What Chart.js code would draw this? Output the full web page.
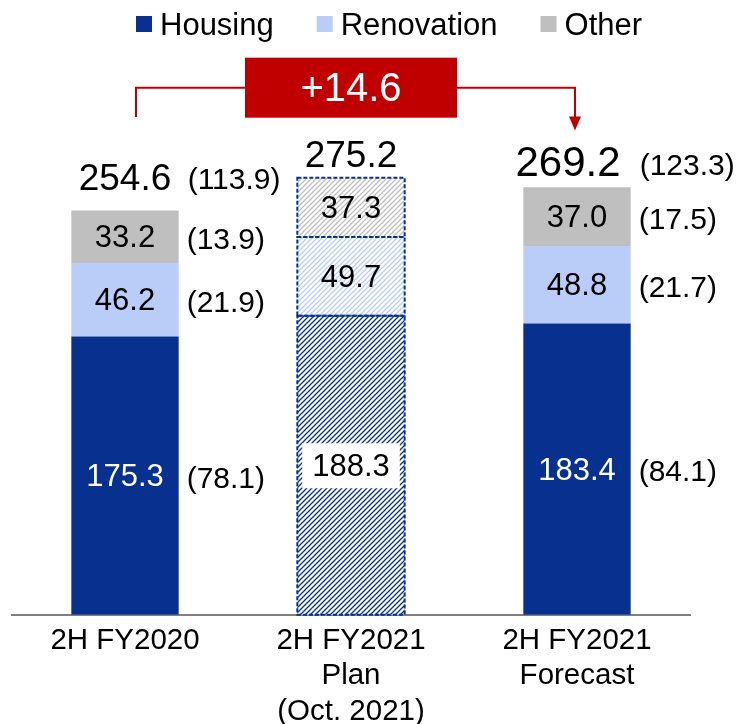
<!DOCTYPE html>
<html lang="en">
<head>
<meta charset="UTF-8">
<script src="https://cdn.jsdelivr.net/npm/chart.js"></script>
<title>Sales 2H FY2021</title>
<style>
  body { margin: 0; background: #fff; }
  #chart { display: block; }
</style>
</head>
<body>
<canvas id="chart" width="738" height="724"></canvas>
<script>
// x axis categories (multi line)
const categories = [['2H FY2020'], ['2H FY2021', 'Plan', '(Oct. 2021)'], ['2H FY2021', 'Forecast']];
// stacked values
const housing = [175.3, 188.3, 183.4];
const renovation = [46.2, 49.7, 48.8];
const other = [33.2, 37.3, 37.0];
const totals = [254.6, 275.2, 269.2];
// figures in brackets to the right of the bars (none for the plan)
const housingSub = [78.1, null, 84.1];
const renovationSub = [21.9, null, 21.7];
const otherSub = [13.9, null, 17.5];
const totalSub = [113.9, null, 123.3];
const planIndex = 1;

const FONT = 'Arial, "Liberation Sans", sans-serif';
const BLUE = '#08318F';
const LIGHT = '#B9CDF8';
const GREY = '#BFBFBF';
const RED = '#C00000';

// diagonal hatch used for the plan bar
function stripes(color) {
    const c = document.createElement('canvas');
    c.width = 5; c.height = 5;
    const g = c.getContext('2d');
    g.fillStyle = '#fff';
    g.fillRect(0, 0, 5, 5);
    g.strokeStyle = color;
    g.lineWidth = 1.3;
    g.beginPath();
    g.moveTo(-1, 6); g.lineTo(6, -1);
    g.moveTo(-1, 1); g.lineTo(1, -1);
    g.moveTo(4, 6); g.lineTo(6, 4);
    g.stroke();
    return g.createPattern(c, 'repeat');
}

function fills(solid) {
    return categories.map((c, i) => i === planIndex ? stripes(solid) : solid);
}

// value labels inside the segments, totals and bracket figures
const labelPlugin = {
    id: 'valueLabels',
    afterDatasetsDraw(chart) {
        const ctx = chart.ctx;
        const subs = [housingSub, renovationSub, otherSub];
        ctx.save();
        ctx.textBaseline = 'middle';
        chart.data.datasets.forEach((ds, di) => {
            const meta = chart.getDatasetMeta(di);
            meta.data.forEach((bar, i) => {
                const yMid = (bar.y + bar.base) / 2;
                const txt = ds.data[i].toFixed(1);
                ctx.font = '31px ' + FONT;
                ctx.textAlign = 'center';
                if (di === 0 && i === planIndex) {
                    const w = ctx.measureText(txt).width + 20;
                    ctx.fillStyle = '#fff';
                    ctx.fillRect(bar.x - w / 2, yMid - 22, w, 45);
                }
                ctx.fillStyle = (di === 0 && i !== planIndex) ? '#fff' : '#000';
                ctx.fillText(txt, bar.x, yMid + 2);

                const sub = subs[di][i];
                if (sub != null) {
                    ctx.font = '30px ' + FONT;
                    ctx.textAlign = 'left';
                    ctx.fillStyle = '#000';
                    ctx.fillText('(' + sub.toFixed(1) + ')', bar.x + bar.width / 2 + 8, yMid + 4);
                }
            });
        });

        // totals above the bars
        const topMeta = chart.getDatasetMeta(chart.data.datasets.length - 1);
        topMeta.data.forEach((bar, i) => {
            ctx.textBaseline = 'alphabetic';
            ctx.textAlign = 'center';
            ctx.fillStyle = '#000';
            ctx.font = (i === 2 ? '42px ' : '37px ') + FONT;
            const yT = bar.y - (i === 0 ? 20 : 11);
            const xT = bar.x - (i === 2 ? 9 : 0);
            ctx.fillText(totals[i].toFixed(1), xT, yT);
            if (totalSub[i] != null) {
                ctx.font = '30px ' + FONT;
                ctx.textAlign = 'left';
                ctx.fillText('(' + totalSub[i].toFixed(1) + ')', bar.x + bar.width / 2 + 9, yT - 1);
            }
        });

        // dashed outline around the plan segments
        ctx.setLineDash([4, 2]);
        ctx.strokeStyle = BLUE;
        ctx.lineWidth = 2;
        chart.data.datasets.forEach((ds, di) => {
            const bar = chart.getDatasetMeta(di).data[planIndex];
            ctx.strokeRect(bar.x - bar.width / 2, bar.y, bar.width, bar.base - bar.y);
        });
        ctx.restore();
    }
};

// red bracket with the difference forecast - actual
const deltaPlugin = {
    id: 'delta',
    afterDraw(chart) {
        const ctx = chart.ctx;
        const y = chart.scales.y;
        const bars = chart.getDatasetMeta(0).data;
        const xL = bars[0].x + 11;
        const xR = bars[2].x - 2;
        const xM = bars[1].x;
        const yLine = y.getPixelForValue(332);
        const yLeft = y.getPixelForValue(313.5);
        const yTip = y.getPixelForValue(305);
        ctx.save();
        ctx.strokeStyle = RED;
        ctx.fillStyle = RED;
        ctx.lineWidth = 2;
        ctx.beginPath();
        ctx.moveTo(xL, yLeft);
        ctx.lineTo(xL, yLine);
        ctx.lineTo(xR, yLine);
        ctx.lineTo(xR, yTip - 13);
        ctx.stroke();
        ctx.beginPath();
        ctx.moveTo(xR - 6, yTip - 14);
        ctx.lineTo(xR + 6, yTip - 14);
        ctx.lineTo(xR, yTip);
        ctx.closePath();
        ctx.fill();
        ctx.fillRect(xM - 106, yLine - 30, 212, 60);
        ctx.fillStyle = '#fff';
        ctx.font = '40px ' + FONT;
        ctx.textAlign = 'center';
        ctx.textBaseline = 'middle';
        const delta = totals[2] - totals[0];
        ctx.fillText('+' + delta.toFixed(1), xM, yLine + 2);
        ctx.restore();
    }
};

// legend row at the top
const legendPlugin = {
    id: 'topLegend',
    afterDraw(chart) {
        const ctx = chart.ctx;
        ctx.save();
        ctx.font = '31px ' + FONT;
        ctx.textBaseline = 'alphabetic';
        ctx.textAlign = 'left';
        let x = 136;
        chart.data.datasets.forEach(ds => {
            ctx.fillStyle = ds.legendColor;
            ctx.fillRect(x, 16, 16, 16);
            ctx.fillStyle = '#000';
            ctx.fillText(ds.label, x + 24, 35);
            x += 24 + ctx.measureText(ds.label).width + 43;
        });
        ctx.restore();
    }
};

const ctx = document.getElementById('chart').getContext('2d');
const chart = new Chart(ctx, {
    type: 'bar',
    data: {
        labels: categories,
        datasets: [
            { label: 'Housing', data: housing, backgroundColor: fills(BLUE), legendColor: BLUE },
            { label: 'Renovation', data: renovation, backgroundColor: fills(LIGHT), legendColor: LIGHT },
            { label: 'Other', data: other, backgroundColor: fills(GREY), legendColor: GREY },
        ],
    },
    options: {
        responsive: false,
        animation: false,
        datasets: { bar: { barPercentage: 0.475, categoryPercentage: 1, borderWidth: 0 } },
        layout: { padding: { left: 12, right: 48, top: 48, bottom: -14 } },
        plugins: { legend: { display: false }, tooltip: { enabled: false } },
        scales: {
            x: {
                stacked: true,
                grid: { display: false, drawTicks: false },
                border: { display: true, color: '#7F7F7F', width: 2 },
                ticks: {
                    color: '#000',
                    font: { family: FONT, size: 29.5, lineHeight: 1.19 },
                    padding: 9,
                    maxRotation: 0,
                    autoSkip: false,
                },
            },
            y: {
                stacked: true,
                display: false,
                min: 0,
                max: 357,
            },
        },
    },
    plugins: [labelPlugin, deltaPlugin, legendPlugin],
});
</script>
</body>
</html>
